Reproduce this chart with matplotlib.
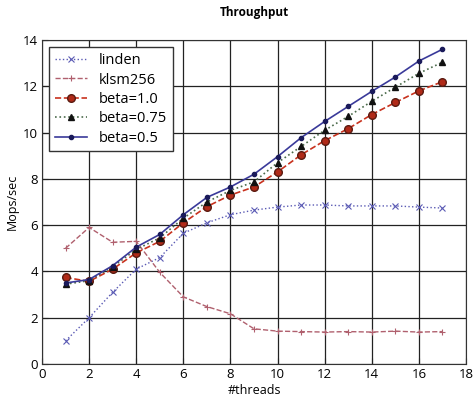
import numpy as np
import matplotlib
matplotlib.use("Agg")
from matplotlib import pyplot as plt

threads = list(range(1, 18))

linden = [1.0, 2.0, 3.1, 4.1, 4.6, 5.65, 6.1, 6.45, 6.65, 6.78, 6.87, 6.87, 6.83, 6.83, 6.83, 6.78, 6.74]
klsm256 = [5.0, 5.9, 5.26, 5.3, 3.96, 2.9, 2.48, 2.17, 1.52, 1.42, 1.4, 1.38, 1.4, 1.38, 1.42, 1.38, 1.4]
beta_10 = [3.74, 3.57, 4.1, 4.8, 5.3, 6.1, 6.8, 7.3, 7.65, 8.3, 9.04, 9.65, 10.17, 10.78, 11.3, 11.8, 12.2]
beta_075 = [3.45, 3.6, 4.2, 4.95, 5.45, 6.3, 7.0, 7.5, 7.87, 8.7, 9.4, 10.1, 10.7, 11.35, 11.96, 12.56, 13.04]
beta_05 = [3.5, 3.65, 4.25, 5.05, 5.6, 6.45, 7.2, 7.65, 8.2, 8.96, 9.78, 10.48, 11.13, 11.78, 12.4, 13.09, 13.6]

plt.rcParams["font.family"] = ["Open Sans", "DejaVu Sans"]
plt.rcParams["font.size"] = 9.5

fig = plt.figure(figsize=(4.74, 4.01), dpi=100)
ax = fig.add_axes([42 / 474, 1 - 364 / 401, 424 / 474, 324 / 401])

ax.plot(threads, linden, linestyle=':', color='#5a5ab4', marker='x', markersize=4,
        markeredgewidth=0.8, linewidth=1, label='linden')
ax.plot(threads, klsm256, linestyle='--', color='#b0606e', marker='+', markersize=5,
        markeredgewidth=0.8, linewidth=1, label='klsm256')
ax.plot(threads, beta_10, linestyle='--', color='#c8321e', marker='o', markersize=5.5,
        markerfacecolor='#b02a18', markeredgecolor='#5a1a10', linewidth=1.2, label='beta=1.0')
ax.plot(threads, beta_075, linestyle=':', color='#4a6a4a', marker='^', markersize=5,
        markerfacecolor='#111111', markeredgecolor='#111111', linewidth=1.2, label='beta=0.75')
ax.plot(threads, beta_05, linestyle='-', color='#3a3a9a', marker='o', markersize=3,
        markerfacecolor='#1a1a5a', markeredgecolor='#1a1a5a', linewidth=1.2, label='beta=0.5')

ax.set_xlim(0, 18)
ax.set_ylim(0, 14)
ax.set_xticks(range(0, 19, 2))
ax.set_yticks(range(0, 15, 2))
ax.grid(True, color='#222222', linestyle='-', linewidth=0.9)
ax.tick_params(direction='in', length=4, color='#222222', pad=3)
for s in ax.spines.values():
    s.set_color('#333333')

ax.set_title('Throughput', fontsize=8.5, fontweight='bold', pad=17)
ax.set_xlabel('#threads', fontsize=9, labelpad=2)
ax.set_ylabel('Mops/sec', fontsize=9, labelpad=3)

leg = ax.legend(loc='upper left', fontsize=10.5, fancybox=False, framealpha=1,
                edgecolor='#333333', borderpad=0.4, labelspacing=0.3, handlelength=2.2)
leg.get_frame().set_linewidth(1.0)

fig.savefig('out.png', dpi=100)
